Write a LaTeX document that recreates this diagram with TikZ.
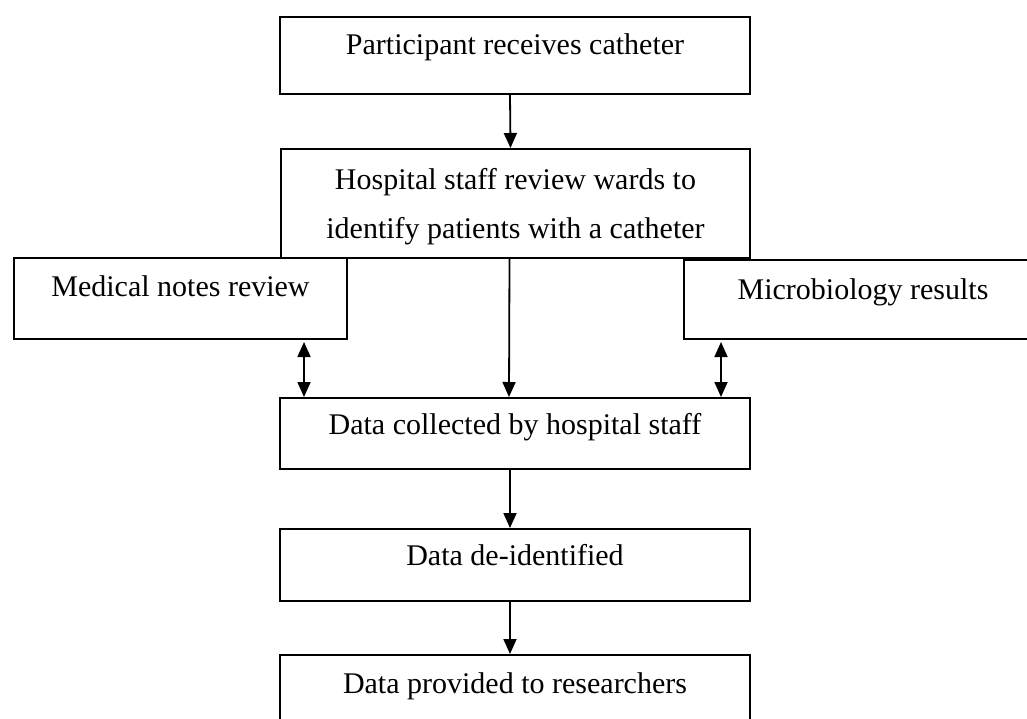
\documentclass[tikz,border=0pt]{standalone}
\usepackage{fontspec}
\setmainfont{Liberation Serif}
\usetikzlibrary{arrows.meta}
\tikzset{
    mybox/.style = {rectangle, draw=black, line width=1pt, anchor=north west, inner xsep=0pt, inner ysep=0pt, align=center, font=\fontsize{15}{24.5}\selectfont},
    edgen/.style = {-{Triangle[length=7.5pt,width=6.5pt]}, line width=0.9pt},
    edged/.style = {{Triangle[length=7.5pt,width=6.5pt]}-{Triangle[length=7.5pt,width=6.5pt]}, line width=0.9pt, shorten <=1pt},
}
\begin{document}
\begin{tikzpicture}[x=0.5pt,y=-0.5pt]
\path[use as bounding box, clip] (0,0) rectangle (1027,718);
%
\node[mybox, minimum width=235pt, text height=18.5pt, text depth=20pt] at (279,16) (part) {Participant receives catheter};
\node[mybox, minimum width=234.5pt, text height=44.5pt, text depth=10pt] at (280,148) (ward) {Hospital staff review wards to\\identify patients with a catheter};
\node[mybox, minimum width=166.5pt, text height=19pt, text depth=21.5pt] at (13,257) (notes) {Medical notes review};
\node[mybox, minimum width=179pt, text height=19.5pt, text depth=20pt] at (683,259) (micro) {Microbiology results};
\node[mybox, minimum width=235pt, text height=18pt, text depth=17.5pt] at (279,397) (coll) {Data collected by hospital staff};
\node[mybox, minimum width=235pt, text height=18pt, text depth=18pt] at (279,528) (deid) {Data de-identified};
\node[mybox, minimum width=235pt, text height=19pt, text depth=18pt] at (279,654) (prov) {Data provided to researchers};
%
\draw[edgen] ([xshift=-2.5pt]part.south) -- ([xshift=-2.5pt]ward.north);
\draw[edgen] ([xshift=-3pt]ward.south) -- ([xshift=-3pt]coll.north);
\draw[edgen] ([xshift=-2.5pt]coll.south) -- ([xshift=-2.5pt]deid.north);
\draw[edgen] ([xshift=-2.5pt]deid.south) -- ([xshift=-2.5pt]prov.north);
\draw[edged] ([xshift=12.5pt]coll.north west |- notes.south) -- ([xshift=12.5pt]coll.north west);
\draw[edged] ([xshift=-15pt]coll.north east |- micro.south) -- ([xshift=-15pt]coll.north east);
\end{tikzpicture}
\end{document}
